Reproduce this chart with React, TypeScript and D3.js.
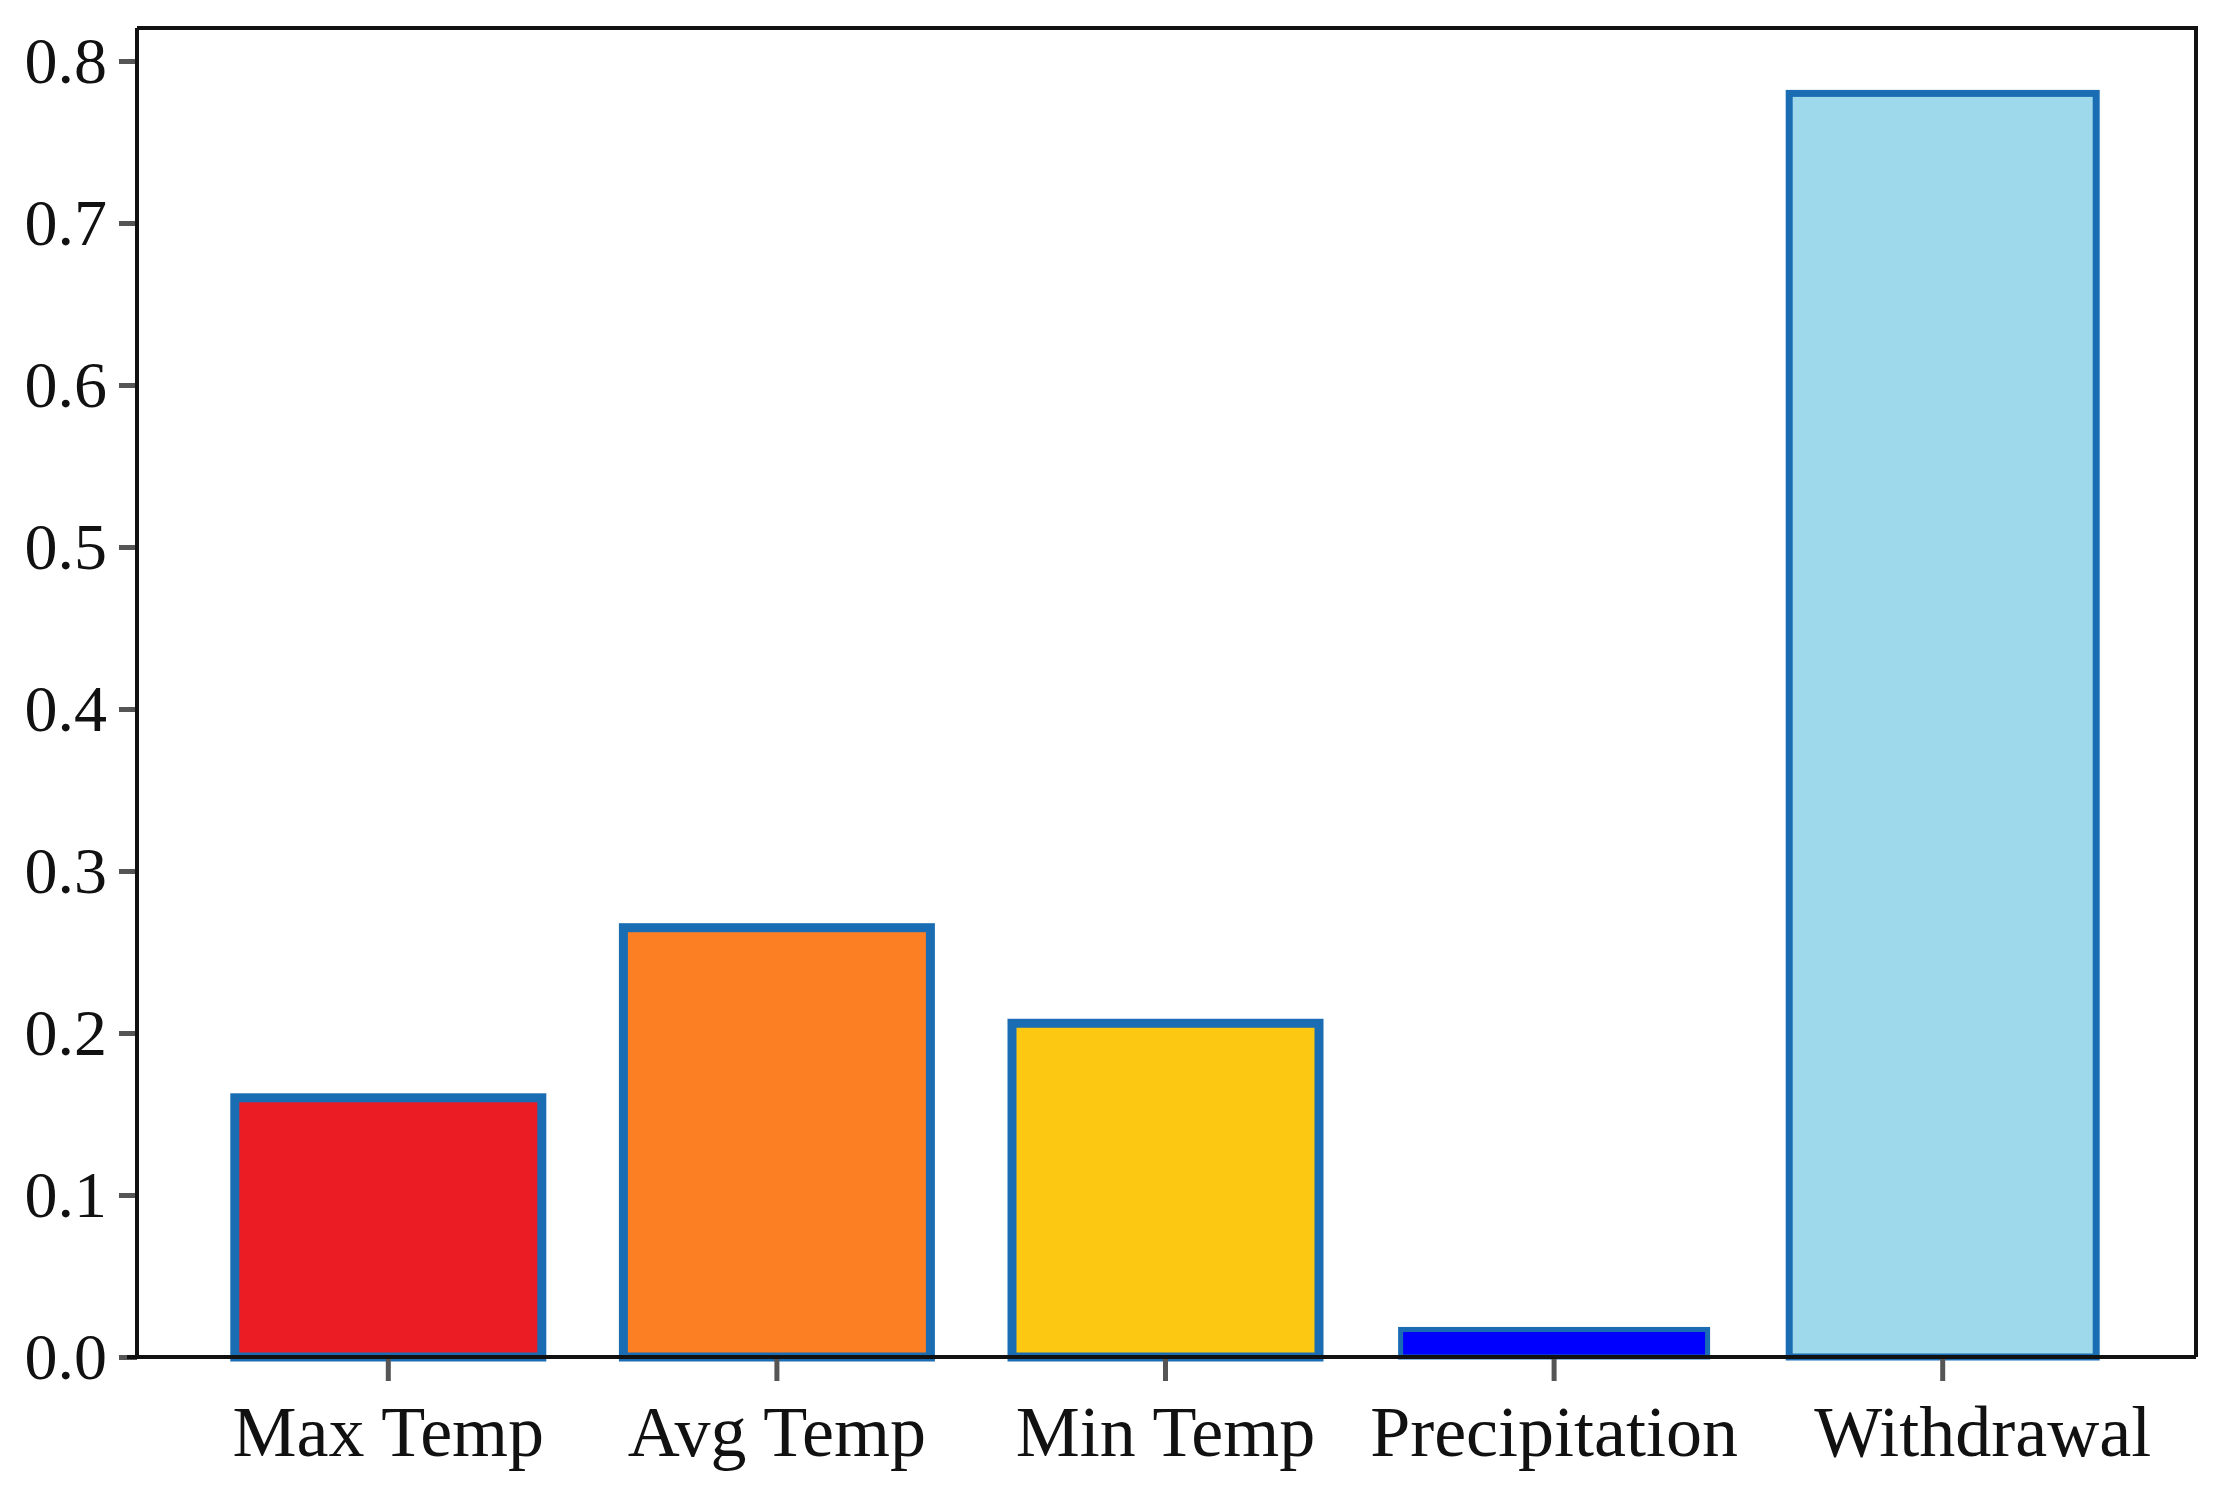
import { useEffect, useRef } from "react";
import * as d3 from "d3";

const categories = ["Max Temp", "Avg Temp", "Min Temp", "Precipitation", "Withdrawal"];
const values = [0.16, 0.265, 0.206, 0.017, 0.78];
const fills = ["#ec1c24", "#fd7f23", "#fdc811", "#0000ff", "#9dd9ea"];
const yTicks = [0, 0.1, 0.2, 0.3, 0.4, 0.5, 0.6, 0.7, 0.8];

const BarChart = () => {
  const ref = useRef<SVGSVGElement>(null);

  useEffect(() => {
    draw();
  }, []);

  const draw = () => {
    const width = 2222;
    const height = 1498;
    const left = 137;
    const right = 2196;
    const top = 28;
    const bottom = 1357;

    const svg = d3.select(ref.current).attr("width", width).attr("height", height);
    svg.selectAll("*").remove();

    const xScale = d3
      .scaleBand<string>()
      .domain(categories)
      .range([left + 57, right - 59])
      .paddingInner(0.21)
      .paddingOuter(0.105);

    const yScale = d3.scaleLinear().domain([0, 0.8]).range([bottom, 61]);

    // bars
    svg
      .append("g")
      .selectAll("rect")
      .data(values)
      .join("rect")
      .attr("x", (_d, i) => xScale(categories[i])!)
      .attr("y", (d) => yScale(d))
      .attr("width", xScale.bandwidth())
      .attr("height", (d) => yScale(0) - yScale(d))
      .attr("fill", (_d, i) => fills[i])
      .attr("stroke", "#1b6db3")
      .attr("stroke-width", (_d, i) => (i === 3 ? 5 : i === 4 ? 7 : 9));

    // frame (top + right)
    svg
      .append("path")
      .attr("d", `M${left},${top}H${right}V${bottom}`)
      .attr("fill", "none")
      .attr("stroke", "#111")
      .attr("stroke-width", 4);

    // y axis
    const yAxis = svg
      .append("g")
      .attr("transform", `translate(${left},0)`)
      .call(d3.axisLeft(yScale).tickValues(yTicks).tickFormat(d3.format(".1f")).tickSize(18).tickPadding(12));
    yAxis.select(".domain").remove();
    yAxis.selectAll(".tick line").attr("stroke", "#555").attr("stroke-width", 5);
    yAxis
      .selectAll(".tick text")
      .attr("fill", "#111")
      .style("font-family", "'Liberation Serif', serif")
      .style("font-size", "66px");
    svg
      .append("line")
      .attr("x1", left)
      .attr("x2", left)
      .attr("y1", top)
      .attr("y2", bottom)
      .attr("stroke", "#111")
      .attr("stroke-width", 4);

    // x axis
    const xAxis = svg
      .append("g")
      .attr("transform", `translate(0,${bottom})`)
      .call(d3.axisBottom(xScale).tickSize(24).tickPadding(24));
    xAxis.select(".domain").remove();
    xAxis.selectAll(".tick line").attr("stroke", "#555").attr("stroke-width", 5);
    xAxis
      .selectAll(".tick text")
      .attr("fill", "#111")
      .attr("dx", (_d, i) => (i === categories.length - 1 ? 40 : 0))
      .style("font-family", "'Liberation Serif', serif")
      .style("font-size", "72px");
    svg
      .append("line")
      .attr("x1", left - 10)
      .attr("x2", right)
      .attr("y1", bottom)
      .attr("y2", bottom)
      .attr("stroke", "#111")
      .attr("stroke-width", 4);
  };

  return (
    <div style={{ position: "absolute", left: 0, top: 0, background: "#fff" }}>
      <svg ref={ref}></svg>
    </div>
  );
};

export default function App() {
  return <BarChart />;
}
